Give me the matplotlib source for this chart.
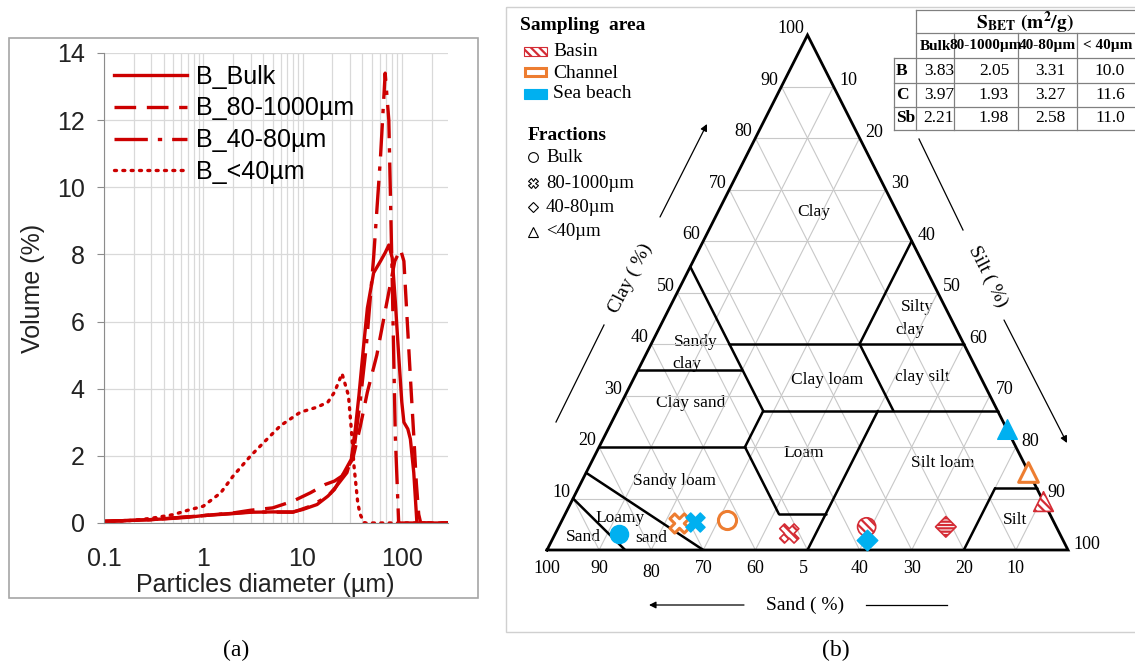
import numpy as np
import matplotlib
matplotlib.use('Agg')
import matplotlib.pyplot as plt
from matplotlib.patches import Rectangle
from matplotlib.ticker import LogLocator, NullFormatter, FixedLocator

plt.rcParams['font.family'] = 'Liberation Sans'
plt.rcParams['mathtext.fontset'] = 'stix'
plt.rcParams['hatch.linewidth'] = 1.6

SERIF = 'Liberation Serif'
RED = '#CC0000'

# ---------------- (a) particle size distribution, basin sample ----------------
bulk_d = [0.1, 0.2, 0.4, 0.7, 1, 2, 3, 5, 8, 10, 14, 18, 21, 25, 31, 34, 37, 41, 45, 52,
          61, 68, 74, 80, 86, 93, 100, 105, 115, 122, 132, 142, 300]
bulk_v = [0.05, 0.08, 0.12, 0.17, 0.22, 0.28, 0.32, 0.33, 0.33, 0.4, 0.55, 0.8, 1.0, 1.4, 1.9,
          2.8, 3.8, 5.2, 6.4, 7.45, 7.8, 8.05, 8.28, 7.9, 6.6, 5.0, 3.6, 3.0, 2.8, 2.5, 1.5, 0.0, 0.0]

f80_d = [0.1, 0.3, 1, 2, 3, 5, 8, 12, 17, 21, 25, 32, 38, 45, 56, 71, 85, 97, 105, 117, 125,
         132, 140, 148, 155, 300]
f80_v = [0.05, 0.1, 0.22, 0.3, 0.38, 0.45, 0.65, 0.9, 1.15, 1.25, 1.4, 1.9, 2.85, 3.9, 5.0,
         6.6, 7.8, 8.15, 7.8, 5.3, 3.8, 2.6, 1.2, 0.26, 0.0, 0.0]

f40_d = [0.1, 0.3, 1, 3, 8, 12, 18, 22, 28, 33, 38, 44, 52, 61, 68, 74, 80, 86, 93, 300]
f40_v = [0.05, 0.1, 0.22, 0.33, 0.32, 0.5, 0.8, 1.1, 1.5, 2.2, 3.6, 5.3, 7.9, 10.9, 13.4,
         12.0, 7.3, 2.6, 0.0, 0.0]

fine_d = [0.1, 0.2, 0.3, 0.5, 0.7, 1, 1.5, 2, 3, 4.4, 6, 9.5, 14, 18, 21, 25, 29, 31, 33,
          36, 38, 42, 300]
fine_v = [0.03, 0.08, 0.14, 0.25, 0.38, 0.5, 0.9, 1.4, 2.0, 2.5, 2.9, 3.3, 3.45, 3.6, 3.9,
          4.45, 3.8, 2.8, 1.7, 0.6, 0.26, 0.0, 0.0]

psd_labels = ['B_Bulk', 'B_80-1000µm', 'B_40-80µm', 'B_<40µm']

# ---------------- (b) texture triangle ----------------
# sample compositions (sand, silt, clay) in %
areas = ['Basin', 'Channel', 'Sea beach']
fractions = ['Bulk', '80-1000µm', '40-80µm', '<40µm']
basin_pts = [(36.4, 59.1, 4.5), (51.9, 44.9, 3.2), (21.2, 74.3, 4.5), (0.0, 90.6, 9.4)]
channel_pts = [(62.6, 31.6, 5.8), (72.1, 22.7, 5.2), None, (0.0, 84.8, 15.2)]
beach_pts = [(84.5, 12.3, 3.2), (68.9, 25.6, 5.5), (37.7, 60.4, 1.9), (0.0, 76.5, 23.5)]

# USDA class boundaries, (sand, silt, clay)
class_edges = [
    ((45, 0, 55), (45, 28, 27)),
    ((45, 15, 40), (0, 60, 40)),
    ((0, 40, 60), (20, 40, 40)),
    ((20, 40, 40), (20, 53, 27)),
    ((45, 28, 27), (0, 73, 27)),
    ((65, 0, 35), (45, 20, 35)),
    ((80, 0, 20), (52, 28, 20)),
    ((52, 28, 20), (45, 28, 27)),
    ((52, 28, 20), (52, 41, 7)),
    ((52, 41, 7), (43, 50, 7)),
    ((50, 50, 0), (23, 50, 27)),
    ((85, 0, 15), (70, 30, 0)),
    ((90, 0, 10), (85, 15, 0)),
    ((20, 80, 0), (8, 80, 12)),
    ((8, 80, 12), (0, 88, 12)),
]

# BET surface areas (m2/g)
bet_rows = ['B', 'C', 'Sb']
bet_cols = ['Bulk', '80-1000µm', '40-80µm', '< 40µm']
bet_B = ['3.83', '2.05', '3.31', '10.0']
bet_C = ['3.97', '1.93', '3.27', '11.6']
bet_Sb = ['2.21', '1.98', '2.58', '11.0']


def tern(sand, silt, clay):
    silt = np.asarray(silt, dtype=float)
    clay = np.asarray(clay, dtype=float)
    return silt / 100 + clay / 200, clay / 100


fig = plt.figure(figsize=(11.35, 6.64), dpi=100)

# pixel overlay for frames, captions, legend and table
bg = fig.add_axes([0, 0, 1, 1])
bg.set_xlim(0, 1135)
bg.set_ylim(664, 0)
bg.axis('off')

bg.add_patch(Rectangle((9, 38), 469, 560, fill=False, ec='#A6A6A6', lw=1.2))
bg.add_patch(Rectangle((506, 7), 640, 625, fill=False, ec='#D0D0D0', lw=1.0))
bg.text(236, 650, '(a)', family=SERIF, fontsize=17, ha='center', va='center')
bg.text(836, 650, '(b)', family=SERIF, fontsize=17, ha='center', va='center')

# ---- panel (a)
ax = fig.add_axes([104 / 1135, 1 - 523 / 664, 344 / 1135, 470 / 664])
ax.plot(bulk_d, bulk_v, color=RED, lw=2.4, label=psd_labels[0])
ax.plot(f80_d, f80_v, color=RED, lw=2.4, dashes=(6.5, 3.2), label=psd_labels[1])
ax.plot(f40_d, f40_v, color=RED, lw=2.4, dashes=(10, 3, 1.3, 3), label=psd_labels[2])
ax.plot(fine_d, fine_v, color=RED, lw=2.4, linestyle=(0, (0.6, 1.9)),
        dash_capstyle='round', label=psd_labels[3])
ax.set_xscale('log')
ax.set_xlim(0.1, 292)
ax.set_ylim(0, 14)
ax.xaxis.set_major_locator(FixedLocator([0.1, 1, 10, 100]))
ax.set_xticklabels(['0.1', '1', '10', '100'])
ax.xaxis.set_minor_locator(LogLocator(base=10, subs=np.arange(2, 10)))
ax.xaxis.set_minor_formatter(NullFormatter())
ax.set_yticks(range(0, 15, 2))
ax.grid(which='both', axis='x', color='#D9D9D9', lw=0.9)
ax.grid(which='major', axis='y', color='#D9D9D9', lw=0.9)
ax.set_axisbelow(True)
for s in ['top', 'right']:
    ax.spines[s].set_visible(False)
for s in ['left', 'bottom']:
    ax.spines[s].set_color('#8C8C8C')
ax.tick_params(axis='y', direction='out', length=5, color='#8C8C8C', pad=9,
               labelsize=18, labelcolor='#222222')
ax.tick_params(axis='x', which='both', length=0, pad=17, labelsize=18, labelcolor='#222222')
ax.set_xlabel('Particles diameter (µm)', fontsize=18, color='#222222')
ax.xaxis.set_label_coords(0.468, -0.132)
ax.xaxis.label.set_va('center')
ax.set_ylabel('Volume (%)', fontsize=18, color='#222222')
ax.yaxis.set_label_coords(-0.206, 0.5)
ax.yaxis.label.set_va('center')
ax.legend(loc='upper left', bbox_to_anchor=(0.03, 0.975), frameon=False, fontsize=18,
          handlelength=2.9, handletextpad=0.35, labelspacing=0.31, borderpad=0,
          borderaxespad=0)

# ---- panel (b)
tx = fig.add_axes([547 / 1135, 1 - 550 / 664, 521 / 1135, 515 / 664])
tx.set_xlim(0, 1)
tx.set_ylim(0, 1)
tx.axis('off')

grid_kw = dict(color='#C8C8C8', lw=0.8, zorder=1)
for v in range(10, 100, 10):
    tx.plot(*tern([100 - v, 0], [0, 100 - v], [v, v]), **grid_kw)
    tx.plot(*tern([100 - v, 0], [v, v], [0, 100 - v]), **grid_kw)
    tx.plot(*tern([v, v], [100 - v, 0], [0, 100 - v]), **grid_kw)

for a, b in class_edges:
    tx.plot(*tern([a[0], b[0]], [a[1], b[1]], [a[2], b[2]]), color='black', lw=1.8,
            zorder=2, solid_capstyle='round')
tx.plot(*tern([100, 0, 0, 100], [0, 100, 0, 0], [0, 0, 100, 0]), color='black', lw=2,
        zorder=2, clip_on=False, solid_joinstyle='miter')

tick_kw = dict(family=SERIF, fontsize=13, textcoords='offset points', annotation_clip=False)
for v in range(10, 101, 10):
    x, y = tern(100 - v, 0, v)
    tx.annotate(str(v), (x, y), xytext=(-2, 4.5), ha='right', va='center', **tick_kw)
    x, y = tern(0, v, 100 - v)
    tx.annotate(str(v), (x, y), xytext=(4, 4), ha='left', va='center', **tick_kw)
    x, y = tern(v, 100 - v, 0)
    lab = '5' if v == 50 else str(v)
    dy = -16 if v == 80 else -13
    dx = -3 if v == 50 else 0
    tx.annotate(lab, (x, y), xytext=(dx, dy), ha='center', va='center', **tick_kw)

markers = ['o', 'X', 'D', '^']
sizes = [170, 190, 110, 200]
BASIN = '#D42C35'
ORANGE = '#ED7D31'
BLUE = '#00B0F0'
for i, m in enumerate(markers):
    p = basin_pts[i]
    if p is not None:
        x, y = tern(*p)
        tx.scatter([x], [y], marker=m, s=sizes[i], facecolor='white', edgecolor=BASIN,
                   hatch='-----' if m == 'D' else '\\\\\\\\', lw=1.2, zorder=4, clip_on=False)
    p = channel_pts[i]
    if p is not None:
        x, y = tern(*p)
        tx.scatter([x], [y], marker=m, s=sizes[i], facecolor='white', edgecolor=ORANGE,
                   lw=2.2, zorder=4, clip_on=False)
    p = beach_pts[i]
    if p is not None:
        x, y = tern(*p)
        tx.scatter([x], [y], marker=m, s=sizes[i], facecolor=BLUE, edgecolor=BLUE,
                   lw=1, zorder=5, clip_on=False)

# class names
cls_kw = dict(family=SERIF, fontsize=12.5, ha='center', va='center')
for txt, px, py in [('Clay', 814, 212), ('Silty', 917, 307), ('clay', 910, 330),
                    ('Sandy', 696, 342), ('clay', 687, 364), ('Clay loam', 827, 380),
                    ('clay silt', 922, 377), ('Clay sand', 691, 403), ('Loam', 804, 453),
                    ('Silt loam', 943, 463), ('Sandy loam', 674, 481), ('Loamy', 620, 518),
                    ('sand', 651, 538), ('Sand', 583, 537), ('Silt', 1015, 520)]:
    bg.text(px, py, txt, **cls_kw)

# axis titles and arrows
bg.text(630, 278, 'Clay ( %)', family=SERIF, fontsize=14, rotation=63,
        rotation_mode='anchor', ha='center', va='center')
bg.text(988, 277, 'Silt ( %)', family=SERIF, fontsize=14, rotation=-63,
        rotation_mode='anchor', ha='center', va='center')
bg.text(805, 605, 'Sand ( %)', family=SERIF, fontsize=14, ha='center', va='center')
arr = dict(arrowstyle='-|>', color='black', lw=0.9, mutation_scale=10, shrinkA=0, shrinkB=0)
bg.annotate('', xy=(707, 124), xytext=(660, 217), arrowprops=arr)
bg.plot([556, 604], [422, 325], color='black', lw=0.9)
bg.plot([919, 963], [139, 230], color='black', lw=0.9)
bg.annotate('', xy=(1067, 443), xytext=(1004, 320), arrowprops=arr)
bg.annotate('', xy=(649, 605), xytext=(744, 605), arrowprops=arr)
bg.plot([866, 947], [605, 605], color='black', lw=0.9)

# legend: sampling area
bg.text(520, 25, 'Sampling  area', family=SERIF, fontsize=14, weight='bold', va='center')
bg.add_patch(Rectangle((524, 47), 23, 9, facecolor='white', edgecolor=BASIN, hatch='\\\\\\\\',
                       lw=0.8))
bg.add_patch(Rectangle((525, 68), 21, 8, facecolor='white', edgecolor=ORANGE, lw=2.2))
bg.add_patch(Rectangle((524, 89), 23, 10, facecolor=BLUE, edgecolor=BLUE, lw=0.8))
for txt, py in zip(areas, [52, 73, 94]):
    bg.text(553, py, txt, family=SERIF, fontsize=14, va='center')

# legend: fractions
bg.text(528, 135, 'Fractions', family=SERIF, fontsize=14, weight='bold', va='center')
for m, txt, py in zip(['o', 'X', 'D', '^'], fractions, [157, 183, 207, 232]):
    bg.plot([533], [py], marker=m, ms=7 if m != 'D' else 5.5, mfc='white', mec='black', mew=0.8)
    bg.text(546, py, txt, family=SERIF, fontsize=13.5, va='center')

# BET table
cx = [894, 916, 954, 1018, 1077, 1145]
ry = [10, 33, 58, 83, 107, 130]
tl = dict(color='#808080', lw=0.9)
for y in ry[:2]:
    bg.plot([cx[1], 1135], [y, y], **tl)
for y in ry[2:]:
    bg.plot([cx[0], 1135], [y, y], **tl)
bg.plot([cx[0], cx[0]], [ry[2], ry[5]], **tl)
bg.plot([cx[1], cx[1]], [ry[0], ry[5]], **tl)
for x in cx[2:5]:
    bg.plot([x, x], [ry[1], ry[5]], **tl)
bg.text(1025, 23, r'$\mathbf{S_{BET}\ (m^{2}/g)}$', fontsize=14, ha='center', va='center')
for txt, px in zip(bet_cols, [935, 986, 1047, 1108]):
    bg.text(px, 46, txt, family=SERIF, fontsize=11, weight='bold', ha='center', va='center')
for lab, vals, py in zip(bet_rows, [bet_B, bet_C, bet_Sb], [71, 95, 118]):
    bg.text(896, py, lab, family=SERIF, fontsize=12.5, weight='bold', va='center')
    for v, px in zip(vals, [939, 994, 1050, 1110]):
        bg.text(px, py, v, family=SERIF, fontsize=12.5, ha='center', va='center')

fig.savefig('out.png', dpi=100)
